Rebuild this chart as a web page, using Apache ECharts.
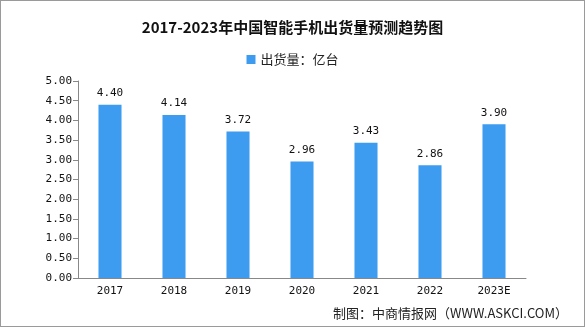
<!DOCTYPE html>
<html><head><meta charset="utf-8">
<script src="https://cdn.jsdelivr.net/npm/echarts@6/dist/echarts.min.js"></script>
<style>html,body{margin:0;padding:0;background:#fff}#c{width:585px;height:327px;box-sizing:border-box;border:1px solid #9a9a9a}</style>
</head><body><div id="c"></div>
<script>
const categories = ['2017','2018','2019','2020','2021','2022','2023E'];
const values = [4.40, 4.14, 3.72, 2.96, 3.43, 2.86, 3.90];
const yTicks = [0, 0.5, 1, 1.5, 2, 2.5, 3, 3.5, 4, 4.5, 5];
const seriesName = '出货量：亿台';
const chart = echarts.init(document.getElementById('c'));
chart.setOption({
  animation:false,
  title:{text:'2017-2023年中国智能手机出货量预测趋势图',left:'center',top:14,
    textStyle:{fontFamily:'Noto Sans CJK SC',fontSize:15,fontWeight:'bold',color:'#111'}},
  legend:{top:47,left:'center',itemWidth:9,itemHeight:9,icon:'rect',itemGap:4,
    textStyle:{fontFamily:'Noto Sans CJK SC',fontSize:13,color:'#222'},data:[seriesName]},
  graphic:[{type:'text',right:16,bottom:6,style:{text:'制图：中商情报网（WWW.ASKCI.COM）',
    font:'13px "Noto Sans CJK SC"',fill:'#222'}}],
  grid:{left:77,right:58,top:80,bottom:48},
  xAxis:{type:'category',data:categories,
    axisLine:{lineStyle:{color:'#888'}},axisTick:{lineStyle:{color:'#888'}},
    axisLabel:{color:'#111',fontSize:11,fontFamily:'DejaVu Sans Mono',margin:8}},
  yAxis:{type:'value',min:0,max:5,interval:0.5,
    axisLine:{show:true,lineStyle:{color:'#888'}},axisTick:{show:true,lineStyle:{color:'#888'}},
    splitLine:{show:false},
    axisLabel:{color:'#111',fontSize:11,fontFamily:'DejaVu Sans Mono',margin:6,
      formatter:v=>v.toFixed(2)}},
  series:[{name:seriesName,type:'bar',data:values,barWidth:'36%',
    itemStyle:{color:'#3d9bf0'},
    label:{show:true,position:'top',formatter:p=>p.value.toFixed(2),
      color:'#111',fontSize:11,fontFamily:'DejaVu Sans Mono',distance:6}}]
});
</script></body></html>
